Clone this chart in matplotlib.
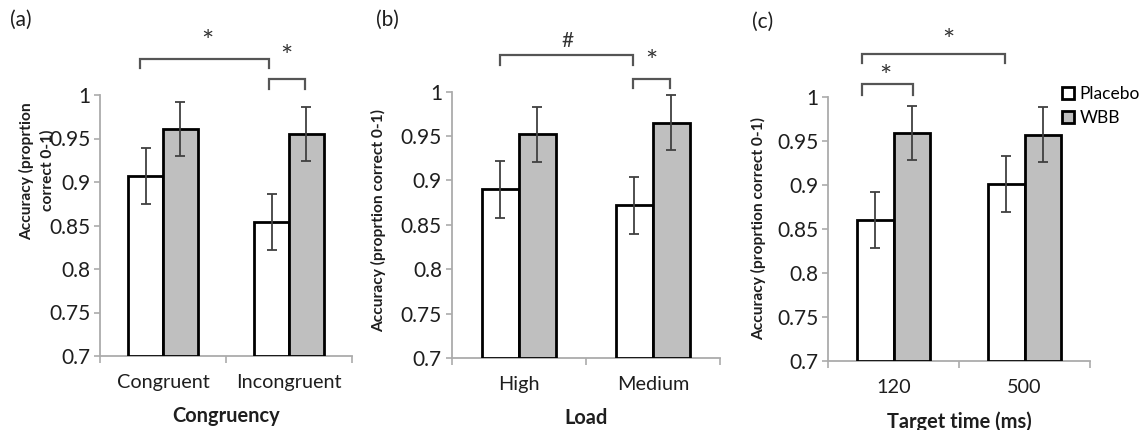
import matplotlib
matplotlib.use("Agg")
import matplotlib.pyplot as plt
from matplotlib.patches import Patch
import numpy as np

plt.rcParams['font.family'] = ['Lato', 'DejaVu Sans']

# data
cats_a = ["Congruent", "Incongruent"]
placebo_a = [0.907, 0.854]
wbb_a = [0.961, 0.955]
placebo_a_err = [0.032, 0.032]
wbb_a_err = [0.031, 0.031]

cats_b = ["High", "Medium"]
placebo_b = [0.890, 0.872]
wbb_b = [0.952, 0.965]
placebo_b_err = [0.032, 0.032]
wbb_b_err = [0.031, 0.031]

cats_c = ["120", "500"]
placebo_c = [0.860, 0.901]
wbb_c = [0.959, 0.957]
placebo_c_err = [0.032, 0.032]
wbb_c_err = [0.031, 0.031]

yticks = [0.7, 0.75, 0.8, 0.85, 0.9, 0.95, 1.0]
ytick_labels = ["0.7", "0.75", "0.8", "0.85", "0.9", "0.95", "1"]
ylab = "Accuracy (proprtion correct 0-1)"

fig = plt.figure(figsize=(11.48, 4.3), dpi=100)

axpos = [
    [100/1148, 1-356/430, 252/1148, 261/430],
    [451.7/1148, 1-358/430, 268.3/1148, 266.3/430],
    [828/1148, 1-361/430, 262/1148, 264.3/430],
]
panels = [
    ("(a)", cats_a, placebo_a, wbb_a, placebo_a_err, wbb_a_err, "Congruency",
     "Accuracy (proprtion\ncorrect 0-1)", (-0.18, 0.71)),
    ("(b)", cats_b, placebo_b, wbb_b, placebo_b_err, wbb_b_err, "Load",
     ylab, (-0.245, 0.518)),
    ("(c)", cats_c, placebo_c, wbb_c, placebo_c_err, wbb_c_err, "Target time (ms)",
     ylab, (-0.237, 0.503)),
]
spine_col = "#ababab"
brk_col = "#555555"
txt_col = "#1e1e1e"
w = 0.275

axes = []
for pos, (tag, cats, pl_vals, wb_vals, pl_err, wb_err, xlab, yl, ylc) in zip(axpos, panels):
    ax = fig.add_axes(pos)
    x = np.arange(len(cats))
    ax.bar(x - w/2, np.array(pl_vals) - 0.7, w, bottom=0.7, color="white",
           edgecolor="black", linewidth=2, zorder=3)
    ax.bar(x + w/2, np.array(wb_vals) - 0.7, w, bottom=0.7, color="#bfbfbf",
           edgecolor="black", linewidth=2, zorder=3)
    ax.errorbar(x - w/2, pl_vals, yerr=pl_err, fmt="none", ecolor="#404040",
                elinewidth=1.3, capsize=3.5, capthick=1.3, zorder=4)
    ax.errorbar(x + w/2, wb_vals, yerr=wb_err, fmt="none", ecolor="#404040",
                elinewidth=1.3, capsize=3.5, capthick=1.3, zorder=4)
    ax.set_xlim(-0.5, 1.5)
    ax.set_ylim(0.7, 1.0)
    ax.set_yticks(yticks)
    ax.set_yticklabels(ytick_labels, fontsize=15, color=txt_col)
    ax.set_xticks([-0.5, 0.5, 1.5])
    ax.set_xticklabels([])
    ax.set_xticks(x, minor=True)
    ax.set_xticklabels(cats, minor=True, fontsize=14.3, color=txt_col)
    ax.tick_params(axis="x", which="minor", length=0, pad=13)
    ax.tick_params(axis="x", which="major", length=5, color=spine_col, width=1.2)
    ax.tick_params(axis="y", length=4, color=spine_col, width=1.2, pad=3)
    for s in ["top", "right"]:
        ax.spines[s].set_visible(False)
    for s in ["left", "bottom"]:
        ax.spines[s].set_color(spine_col)
        ax.spines[s].set_linewidth(1.3)
    ax.set_xlabel(xlab, fontsize=14.4, fontweight="bold", color=txt_col, labelpad=11)
    ax.set_ylabel(yl, fontsize=11.2, fontweight="bold", color=txt_col,
                  linespacing=1.5)
    ax.yaxis.set_label_coords(*ylc)
    axes.append(ax)

# panel tags
fig.text(10/1148, 1-20/430, "(a)", fontsize=15, va="center", ha="left", color=txt_col)
fig.text(376/1148, 1-20/430, "(b)", fontsize=15, va="center", ha="left", color=txt_col)
fig.text(752/1148, 1-22/430, "(c)", fontsize=15, va="center", ha="left", color=txt_col)


def bracket(ax, x0, x1, ytop, ybot):
    ax.plot([x0, x0, x1, x1], [ybot, ytop, ytop, ybot], color=brk_col, lw=1.6,
            clip_on=False, solid_joinstyle="miter")


def mark(ax, xc, yc, s, dy=-10, size=21):
    ax.annotate(s, xy=(xc, yc), xytext=(0, dy), textcoords="offset points",
                ha="center", va="baseline", fontsize=size, color="#333333",
                annotation_clip=False)


# (a) significance
bracket(axes[0], -0.183, 0.841, 1.041, 1.031)
bracket(axes[0], 0.841, 1.127, 1.018, 1.007)
mark(axes[0], 0.35, 1.067, "*")
mark(axes[0], 0.98, 1.049, "*")
# (b)
bracket(axes[1], -0.14, 0.853, 1.041, 1.030)
bracket(axes[1], 0.853, 1.129, 1.014, 1.004)
mark(axes[1], 0.36, 1.060, "#", dy=-6, size=15)
mark(axes[1], 0.99, 1.039, "*")
# (c)
bracket(axes[2], -0.243, 0.851, 1.049, 1.038)
bracket(axes[2], -0.243, 0.147, 1.014, 1.002)
mark(axes[2], 0.42, 1.069, "*")
mark(axes[2], -0.06, 1.028, "*")

handles = [Patch(facecolor="white", edgecolor="black", linewidth=2),
           Patch(facecolor="#bfbfbf", edgecolor="black", linewidth=2)]
fig.legend(handles, ["Placebo", "WBB"], loc="upper left",
           bbox_to_anchor=(1062/1148, 1-86/430), frameon=False, fontsize=12.5,
           handlelength=0.7, handleheight=0.7, handletextpad=0.3,
           labelspacing=0.45, borderaxespad=0, borderpad=0)

fig.savefig("out.png", dpi=100)
